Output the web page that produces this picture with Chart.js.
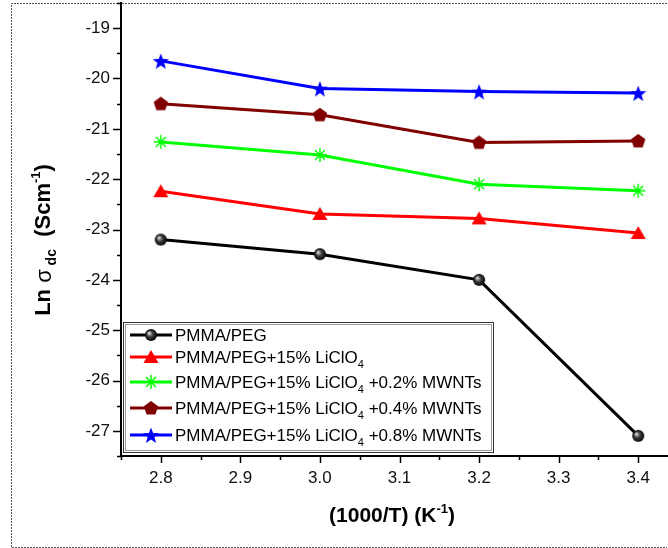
<!DOCTYPE html>
<html>
<head>
<meta charset="utf-8">
<script src="https://cdn.jsdelivr.net/npm/chart.js@4.4.1/dist/chart.umd.min.js"></script>
<style>
  html, body { margin: 0; padding: 0; background: #fff; overflow: hidden; }
  #wrap { width: 680px; height: 548px; }
</style>
</head>
<body>
<div id="wrap"><canvas id="chart" width="680" height="548"></canvas></div>
<script>
// data
var xValues = [2.8, 3.0, 3.2, 3.4];
var pmmaPeg = [-23.2, -23.49, -24.0, -27.1];
var licio4 = [-22.24, -22.69, -22.78, -23.07];
var mwnt02 = [-21.26, -21.52, -22.1, -22.23];
var mwnt04 = [-20.5, -20.72, -21.27, -21.24];
var mwnt08 = [-19.65, -20.2, -20.26, -20.29];

var seriesNames = [
    ['PMMA/PEG', '', ''],
    ['PMMA/PEG+15% LiClO', '4', ''],
    ['PMMA/PEG+15% LiClO', '4', ' +0.2% MWNTs'],
    ['PMMA/PEG+15% LiClO', '4', ' +0.4% MWNTs'],
    ['PMMA/PEG+15% LiClO', '4', ' +0.8% MWNTs']
];
var seriesColors = ['#000000', '#ff0000', '#00ff00', '#800000', '#0000ff'];

var FONT = 'Arial, "Liberation Sans", sans-serif';

/**
 * Make a small canvas to use as a point style.
 * @param {number} size
 * @param {function} paint
 */
function marker(size, paint) {
    var c = document.createElement('canvas');
    c.width = size;
    c.height = size;
    var g = c.getContext('2d');
    paint(g, size / 2);
    return c;
}

var sphere = marker(14, function(g, m) {
    var grad = g.createRadialGradient(m - 2, m - 2, 0.5, m, m, 6);
    grad.addColorStop(0, '#d8d8d8');
    grad.addColorStop(0.45, '#404040');
    grad.addColorStop(1, '#000');
    g.fillStyle = grad;
    g.beginPath();
    g.arc(m, m, 6, 0, Math.PI * 2);
    g.fill();
});

var triangle = marker(16, function(g, m) {
    g.fillStyle = '#ff0000';
    g.beginPath();
    g.moveTo(m, m - 7);
    g.lineTo(m + 7.5, m + 6);
    g.lineTo(m - 7.5, m + 6);
    g.closePath();
    g.fill();
});

var asterisk = marker(18, function(g, m) {
    g.strokeStyle = '#00ff00';
    g.lineWidth = 1.5;
    var r = 7;
    g.beginPath();
    for (var k = 0; k < 4; k++) {
        var a = k * Math.PI / 4;
        g.moveTo(m - r * Math.cos(a), m - r * Math.sin(a));
        g.lineTo(m + r * Math.cos(a), m + r * Math.sin(a));
    }
    g.stroke();
});

var pentagon = marker(16, function(g, m) {
    g.fillStyle = '#800000';
    g.beginPath();
    for (var k = 0; k < 5; k++) {
        var a = -Math.PI / 2 + k * 2 * Math.PI / 5;
        var px = m + 7.5 * Math.cos(a);
        var py = m + 0.5 + 7.5 * Math.sin(a);
        if (k === 0) { g.moveTo(px, py); } else { g.lineTo(px, py); }
    }
    g.closePath();
    g.fill();
});

var star = marker(18, function(g, m) {
    g.fillStyle = '#0000ff';
    g.beginPath();
    for (var k = 0; k < 10; k++) {
        var a = -Math.PI / 2 + k * Math.PI / 5;
        var r = (k % 2 === 0) ? 8.5 : 3.6;
        var px = m + r * Math.cos(a);
        var py = m + 1 + r * Math.sin(a);
        if (k === 0) { g.moveTo(px, py); } else { g.lineTo(px, py); }
    }
    g.closePath();
    g.fill();
});

var markers = [sphere, triangle, asterisk, pentagon, star];
var seriesValues = [pmmaPeg, licio4, mwnt02, mwnt04, mwnt08];

function toPoints(vals) {
    return vals.map(function(v, i) { return {x: xValues[i], y: v}; });
}

var datasets = seriesValues.map(function(vals, i) {
    return {
        label: seriesNames[i].join(''),
        data: toPoints(vals),
        borderColor: seriesColors[i],
        backgroundColor: seriesColors[i],
        borderWidth: 3,
        pointStyle: markers[i],
        pointRadius: 7,
        pointHoverRadius: 7,
        tension: 0,
        clip: false
    };
});

function isMajor(v, step) {
    var q = v / step;
    return Math.abs(q - Math.round(q)) < 1e-6;
}

// draw text pieces: [text, size, dy, weight]
function drawRich(ctx, parts, x, y) {
    var cx = x;
    parts.forEach(function(p) {
        ctx.font = (p[3] || '') + ' ' + p[1] + 'px ' + FONT;
        ctx.fillText(p[0], cx, y + p[2]);
        cx += ctx.measureText(p[0]).width;
    });
    return cx - x;
}

function measureRich(ctx, parts) {
    var w = 0;
    parts.forEach(function(p) {
        ctx.font = (p[3] || '') + ' ' + p[1] + 'px ' + FONT;
        w += ctx.measureText(p[0]).width;
    });
    return w;
}

var decor = {
    id: 'decor',
    beforeDraw: function(chart) {
        var ctx = chart.ctx;
        ctx.save();
        ctx.fillStyle = '#fff';
        ctx.fillRect(0, 0, chart.width, chart.height);
        ctx.strokeStyle = '#555';
        ctx.lineWidth = 1;
        ctx.setLineDash([2, 1]);
        ctx.beginPath();
        ctx.moveTo(667, 3.5);
        ctx.lineTo(11.5, 3.5);
        ctx.lineTo(11.5, 547.5);
        ctx.lineTo(667, 547.5);
        ctx.stroke();
        ctx.restore();
    },
    afterDraw: function(chart) {
        var ctx = chart.ctx;
        var xs = chart.scales.x, ys = chart.scales.y;
        var area = chart.chartArea;
        ctx.save();
        ctx.strokeStyle = '#000';
        ctx.lineWidth = 1.5;
        // x ticks
        xs.ticks.forEach(function(t) {
            var px = Math.round(xs.getPixelForValue(t.value)) + 0.5;
            var len = isMajor(t.value, 0.1) ? 7 : 4;
            ctx.beginPath();
            ctx.moveTo(px, area.bottom);
            ctx.lineTo(px, area.bottom + len);
            ctx.stroke();
        });
        // y ticks
        ys.ticks.forEach(function(t) {
            var py = Math.round(ys.getPixelForValue(t.value)) + 0.5;
            var len = isMajor(t.value, 1) ? 8 : 4;
            ctx.beginPath();
            ctx.moveTo(area.left, py);
            ctx.lineTo(area.left - len, py);
            ctx.stroke();
        });

        // axis titles
        ctx.fillStyle = '#000';
        ctx.textBaseline = 'middle';
        ctx.textAlign = 'left';
        var xt = [['(1000/T) (K', 21, 0, 'bold'], ['-1', 13, -7, 'bold'], [')', 21, 0, 'bold']];
        var wx = measureRich(ctx, xt);
        drawRich(ctx, xt, 392 - wx / 2, 516);

        var yt = [['Ln ', 22, 0, 'bold'], ['\u03c3', 22, 1, ''], [' dc', 14, 8, 'bold'],
            ['  (Scm', 22, 0, 'bold'], ['-1', 13, -8, 'bold'], [')', 22, 0, 'bold']];
        ctx.save();
        ctx.translate(44, 240);
        ctx.rotate(-Math.PI / 2);
        var wy = measureRich(ctx, yt);
        drawRich(ctx, yt, -wy / 2, 0);
        ctx.restore();

        // legend
        var bx = 123, by = 322, bw = 370, bh = 130;
        ctx.lineWidth = 1;
        ctx.strokeStyle = '#333';
        ctx.strokeRect(bx + 0.5, by + 0.5, bw, bh);
        ctx.strokeStyle = '#999';
        ctx.strokeRect(bx + 2.5, by + 2.5, bw - 4, bh - 4);
        var rows = [335, 357, 382, 408, 435];
        rows.forEach(function(ry, i) {
            ctx.strokeStyle = seriesColors[i];
            ctx.lineWidth = 3;
            ctx.beginPath();
            ctx.moveTo(130, ry);
            ctx.lineTo(172, ry);
            ctx.stroke();
            var m = markers[i];
            ctx.drawImage(m, 151 - m.width / 2, ry - m.height / 2);
            ctx.fillStyle = '#000';
            var nm = seriesNames[i];
            drawRich(ctx, [[nm[0], 17, 0], [nm[1], 11, 7], [nm[2], 17, 0]], 175, ry + 1);
        });
        ctx.restore();
    }
};

new Chart(document.getElementById('chart'), {
    type: 'line',
    data: {datasets: datasets},
    options: {
        responsive: false,
        animation: false,
        layout: {autoPadding: false, padding: {top: 3, right: 2, left: 0, bottom: 0}},
        plugins: {legend: {display: false}, tooltip: {enabled: false}},
        scales: {
            x: {
                type: 'linear',
                min: 2.75,
                max: 3.45,
                border: {display: true, color: '#000', width: 2},
                grid: {display: true, drawOnChartArea: false, drawTicks: true, tickLength: 7, tickColor: 'rgba(0,0,0,0)'},
                ticks: {
                    stepSize: 0.05,
                    autoSkip: false,
                    maxRotation: 0,
                    padding: 5,
                    color: '#111',
                    font: {family: FONT, size: 17},
                    callback: function(v) { return isMajor(v, 0.1) ? v.toFixed(1) : ''; }
                },
                afterFit: function(s) {
                    s.height = 92;
                    s.paddingLeft = 0;
                    s.paddingRight = 0;
                }
            },
            y: {
                min: -27.5,
                max: -18.5,
                border: {display: true, color: '#000', width: 2},
                grid: {display: true, drawOnChartArea: false, drawTicks: true, tickLength: 8, tickColor: 'rgba(0,0,0,0)'},
                ticks: {
                    stepSize: 0.5,
                    autoSkip: false,
                    padding: 3,
                    color: '#111',
                    font: {family: FONT, size: 17},
                    callback: function(v) { return isMajor(v, 1) ? String(Math.round(v)) : ''; }
                },
                afterFit: function(s) {
                    s.width = 121;
                    s.paddingTop = 0;
                    s.paddingBottom = 0;
                }
            }
        }
    },
    plugins: [decor]
});
</script>
</body>
</html>
